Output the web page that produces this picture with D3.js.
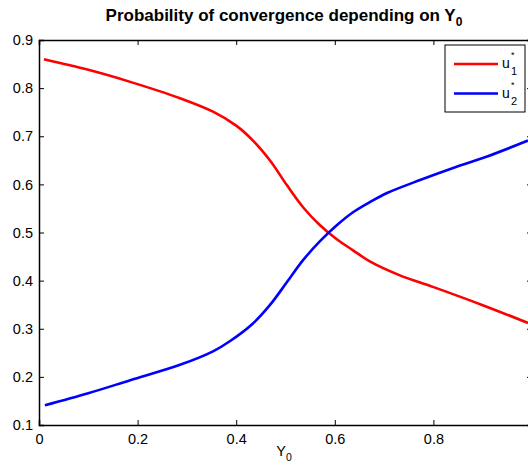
<!DOCTYPE html>
<html><head><meta charset="utf-8">
<script src="https://cdn.jsdelivr.net/npm/d3@7"></script>
<style>body{margin:0;background:#fff}svg{display:block}text{font-family:"Liberation Sans",Arial,Helvetica,sans-serif}</style>
</head><body><svg id="c" width="528" height="470"></svg>
<script>
const xVals1 = [0.01,0.1,0.185,0.286,0.353,0.40,0.434,0.469,0.503,0.536,0.570,0.604,0.637,0.671,0.732,0.799,0.9,0.992];
const u1 = [0.860,0.838,0.813,0.779,0.751,0.722,0.691,0.649,0.598,0.552,0.515,0.486,0.463,0.440,0.411,0.387,0.349,0.312];
const xVals2 = [0.012,0.1,0.185,0.286,0.353,0.387,0.434,0.469,0.503,0.536,0.570,0.604,0.637,0.671,0.706,0.773,0.840,0.909,0.992];
const u2 = [0.141,0.166,0.193,0.225,0.253,0.274,0.311,0.350,0.397,0.443,0.482,0.515,0.542,0.563,0.582,0.609,0.634,0.658,0.691];
const xTicks = [0,0.2,0.4,0.6,0.8,1];
const yTicks = [0.1,0.2,0.3,0.4,0.5,0.6,0.7,0.8,0.9];
const titleText = "Probability of convergence depending on Y";
const seriesNames = ["1","2"];
const colors = ["#ff0000","#0000ff"];

const svg = d3.select("#c");
const L=39, R=532, T=40, B=425;
const x = d3.scaleLinear().domain([0,1]).range([L,R]);
const y = d3.scaleLinear().domain([0.1,0.9]).range([B,T]);

const g = svg.append("g");
const ax = (gen, tr) => g.append("g").attr("transform", tr).call(gen);
const fmt = d3.format(".1~f");
const axB = ax(d3.axisBottom(x).tickValues(xTicks).tickSize(-5).tickPadding(9).tickFormat(d=>d===0?"0":(d===1?"":fmt(d))), `translate(0,${B})`);
const axT = ax(d3.axisTop(x).tickValues(xTicks).tickSize(-5).tickFormat(""), `translate(0,${T})`);
const axL = ax(d3.axisLeft(y).tickValues(yTicks).tickSize(-5).tickPadding(6).tickFormat(d3.format(".1f")), `translate(${L},0)`);
const axR = ax(d3.axisRight(y).tickValues(yTicks).tickSize(-5).tickFormat(""), `translate(${R},0)`);
[axB,axT,axL,axR].forEach(a=>{
  a.select(".domain").attr("stroke","#000").attr("stroke-width",1.5);
  a.selectAll(".tick line").attr("stroke","#000");
  a.selectAll("text").attr("font-size",14.5).attr("fill","#000").attr("font-family","Liberation Sans, Arial, sans-serif");
});

const line = d3.line().x(d=>x(d[0])).y(d=>y(d[1])).curve(d3.curveCatmullRom.alpha(0.5));
const d1 = xVals1.map((v,i)=>[v,u1[i]]);
const d2 = xVals2.map((v,i)=>[v,u2[i]]);
g.append("path").attr("d",line(d1)).attr("fill","none").attr("stroke",colors[0]).attr("stroke-width",2.6);
g.append("path").attr("d",line(d2)).attr("fill","none").attr("stroke",colors[1]).attr("stroke-width",2.6);

const t = svg.append("text").attr("x",284).attr("y",21).attr("text-anchor","middle")
  .attr("font-size",17).attr("font-weight","bold");
t.append("tspan").text(titleText);
t.append("tspan").attr("dy",5).attr("font-size",12).text("0");

const xl = svg.append("text").attr("x",284).attr("y",456).attr("text-anchor","middle").attr("font-size",14.5);
xl.append("tspan").text("Y");
xl.append("tspan").attr("dy",5).attr("font-size",10.5).text("0");

const lg = svg.append("g");
lg.append("rect").attr("x",445).attr("y",45).attr("width",80).attr("height",67).attr("fill","#fff").attr("stroke","#000").attr("stroke-width",1);
seriesNames.forEach((s,i)=>{
  const yy = 64 + i*29.5;
  lg.append("line").attr("x1",454).attr("x2",498).attr("y1",yy).attr("y2",yy).attr("stroke",colors[i]).attr("stroke-width",2.6);
  const tx = lg.append("text").attr("x",502).attr("y",yy+4).attr("font-size",14);
  tx.append("tspan").text("u");
  tx.append("tspan").attr("x",511).attr("dy",-10).attr("font-size",9).text("*");
  tx.append("tspan").attr("x",511).attr("dy",17).attr("font-size",11).text(s);
});
</script></body></html>
